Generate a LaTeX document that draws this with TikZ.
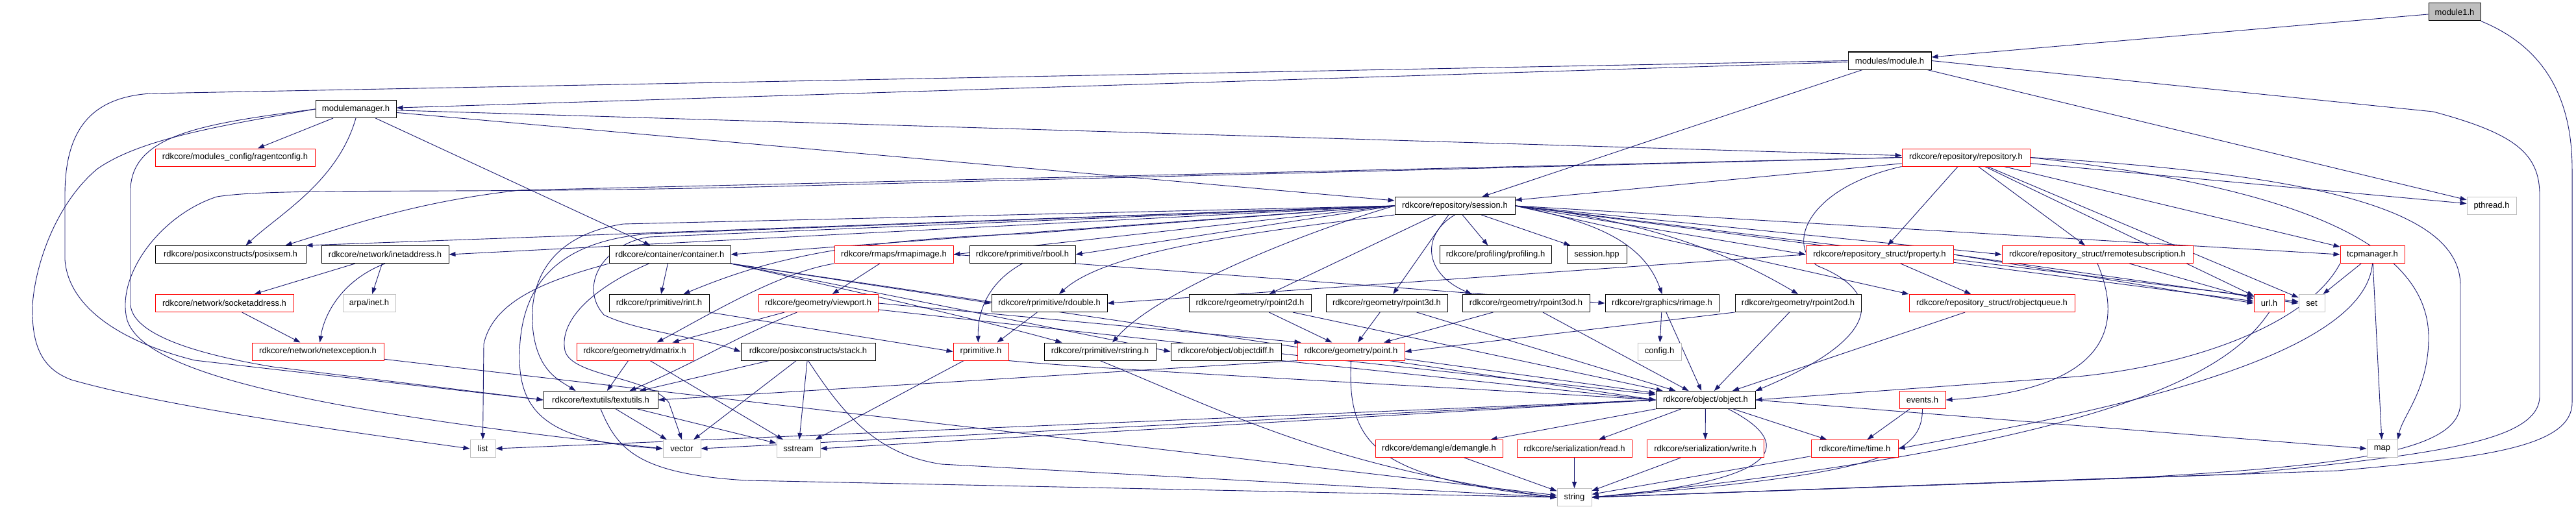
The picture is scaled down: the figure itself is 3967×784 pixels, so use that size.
\documentclass[tikz,border=0pt]{standalone}
\usepackage{fontspec}
\setmainfont{Liberation Sans}
\usetikzlibrary{arrows.meta}
\definecolor{dxblue}{RGB}{25,25,112}
\definecolor{sysgray}{RGB}{191,191,191}
\pgfdeclarelayer{bg}
\pgfsetlayers{bg,main}

\begin{document}
\begin{tikzpicture}[x=1pt,y=-1pt,
  file/.style={draw=#1,line width=1pt,fill=white,minimum height=27pt,inner sep=0pt,
     font=\fontsize{13}{15}\selectfont},
  file/.default=black,
  arr/.style={-{Triangle[length=10pt,width=7pt]},draw=dxblue,line width=0.9pt}]
\useasboundingbox (0,0) rectangle (3967,784);
% top rows
\node[file,fill=sysgray,minimum width=80pt] (m1) at (3780,18.5) {module1.h};
\node[file,minimum width=128pt] (mod) at (2910,93.5) {modules/module.h};
\node[file,minimum width=124pt] (mgr) at (548,168) {modulemanager.h};
\node[file=red,minimum width=246pt] (ragent) at (362,242.5) {rdkcore/modules\_config/ragentconfig.h};
\node[file=red,minimum width=197pt] (repo) at (3027.5,242.5) {rdkcore/repository/repository.h};
\node[file,minimum width=185pt] (sess) at (2240.5,317) {rdkcore/repository/session.h};
\node[file=sysgray,minimum width=76pt] (pthr) at (3837,317) {pthread.h};
% row 5
\node[file,minimum width=232pt] (psem) at (355,392) {rdkcore/posixconstructs/posixsem.h};
\node[file,minimum width=196pt] (inet) at (593,392) {rdkcore/network/inetaddress.h};
\node[file,minimum width=187pt] (cont) at (1031.5,392) {rdkcore/container/container.h};
\node[file=red,minimum width=183pt] (rmap) at (1376.5,392) {rdkcore/rmaps/rmapimage.h};
\node[file,minimum width=163pt] (rbool) at (1574.5,392) {rdkcore/rprimitive/rbool.h};
\node[file,minimum width=172pt] (prof) at (2303,392) {rdkcore/profiling/profiling.h};
\node[file,minimum width=92pt] (shpp) at (2459,392) {session.hpp};
\node[file=red,minimum width=227pt] (prop) at (2894.5,392) {rdkcore/repository\_struct/property.h};
\node[file=red,minimum width=294pt] (rrem) at (3230,392) {rdkcore/repository\_struct/rremotesubscription.h};
\node[file=red,minimum width=99pt] (tcp) at (3653.5,392) {tcpmanager.h};
% row 6
\node[file=red,minimum width=213pt] (sock) at (345.5,467) {rdkcore/network/socketaddress.h};
\node[file=sysgray,minimum width=81pt] (arpa) at (568.5,467) {arpa/inet.h};
\node[file,minimum width=154pt] (rint) at (1015,467) {rdkcore/rprimitive/rint.h};
\node[file=red,minimum width=184pt] (view) at (1260,467) {rdkcore/geometry/viewport.h};
\node[file,minimum width=178pt] (rdbl) at (1616,467) {rdkcore/rprimitive/rdouble.h};
\node[file,minimum width=188pt] (rp2d) at (1925,467) {rdkcore/rgeometry/rpoint2d.h};
\node[file,minimum width=187pt] (rp3d) at (2135.5,467) {rdkcore/rgeometry/rpoint3d.h};
\node[file,minimum width=196pt] (rp3od) at (2350,467) {rdkcore/rgeometry/rpoint3od.h};
\node[file,minimum width=175pt] (rimg) at (2559.5,467) {rdkcore/rgraphics/rimage.h};
\node[file,minimum width=194pt] (rp2od) at (2769,467) {rdkcore/rgeometry/rpoint2od.h};
\node[file=red,minimum width=255pt] (oqueue) at (3067.5,467) {rdkcore/repository\_struct/robjectqueue.h};
\node[file=red,minimum width=47pt] (url) at (3494.5,467) {url.h};
\node[file=sysgray,minimum width=40pt] (set) at (3560,467) {set};
% row 7
\node[file=red,minimum width=203pt] (netx) at (489.5,541.5) {rdkcore/network/netexception.h};
\node[file=red,minimum width=179pt] (dmat) at (977.5,541.5) {rdkcore/geometry/dmatrix.h};
\node[file,minimum width=207pt] (stack) at (1244.5,541.5) {rdkcore/posixconstructs/stack.h};
\node[file=red,minimum width=85pt] (rprim) at (1510.5,541.5) {rprimitive.h};
\node[file,minimum width=172pt] (rstr) at (1694,541.5) {rdkcore/rprimitive/rstring.h};
\node[file,minimum width=170pt] (odiff) at (1888,541.5) {rdkcore/object/objectdiff.h};
\node[file=red,minimum width=165pt] (point) at (2080.5,541.5) {rdkcore/geometry/point.h};
\node[file=sysgray,minimum width=67pt] (config) at (2555.5,541.5) {config.h};
% row 8
\node[file,minimum width=176pt] (text) at (925,616) {rdkcore/textutils/textutils.h};
\node[file,minimum width=153pt] (obj) at (2626.5,616) {rdkcore/object/object.h};
\node[file=red,minimum width=71pt] (events) at (2960.5,616) {events.h};
% row 9
\node[file=sysgray,minimum width=39pt] (list) at (743.5,691) {list};
\node[file=sysgray,minimum width=58pt] (vector) at (1050,691) {vector};
\node[file=sysgray,minimum width=67pt] (sstream) at (1229.5,691) {sstream};
\node[file=red,minimum width=196pt] (dem) at (2216,691) {rdkcore/demangle/demangle.h};
\node[file=red,minimum width=177pt] (read) at (2424.5,691) {rdkcore/serialization/read.h};
\node[file=red,minimum width=180pt] (write) at (2626,691) {rdkcore/serialization/write.h};
\node[file=red,minimum width=134pt] (time) at (2856,691) {rdkcore/time/time.h};
\node[file=sysgray,minimum width=47pt] (map) at (3668.5,691) {map};
% row 10
\node[file=sysgray,minimum width=53pt] (str) at (2424.5,766) {string};

\begin{pgfonlayer}{bg}
\fill[white] (0,0) rectangle (3967,784);
% module1.h
\draw[arr] (m1) -- (mod);
\draw[arr] (m1.south east) .. controls (3925,75) and (3961,160) .. (3961,260) -- (3961,620) .. controls (3961,690) and (3820,705) .. (3600,725) -- (str.east);
% modules/module.h
\draw[arr] (mod) -- (mgr);
\draw[arr] (mod) -- (sess);
\draw[arr] (mod) -- (pthr);
\draw[arr] (mod.east) -- (3747,172) .. controls (3870,205) and (3911,235) .. (3911,300) -- (3911,610) .. controls (3911,680) and (3750,700) .. (3450,730) -- (str.east);
\draw[arr] (mod.west) -- (232,144) .. controls (140,150) and (100,200) .. (100,300) -- (100,400) .. controls (105,470) and (180,525) .. (300,555) -- (text.west);
% modulemanager.h
\draw[arr] (mgr) -- (ragent);
\draw[arr] (mgr) -- (repo);
\draw[arr] (mgr) -- (sess);
\draw[arr] (mgr) -- (cont);
\draw[arr] (mgr.south) .. controls (520,280) and (430,330) .. ([xshift=-93pt]psem.north east);
\draw[arr] (mgr.west) .. controls (320,190) and (205,205) .. (201,290) -- (201,470) .. controls (205,515) and (300,545) .. (420,565) -- (text.west);
\draw[arr] (mgr.west) .. controls (330,195) and (215,215) .. (150,260) .. controls (90,310) and (55,400) .. (50,470) .. controls (48,540) and (70,570) .. (110,585) .. controls (250,625) and (500,660) .. (list.west);
% repository.h
\draw[arr] (repo) -- (sess);
\draw[arr] (repo.west) -- (800,293) .. controls (650,310) and (560,340) .. ([xshift=-32pt]psem.north east);
\draw[arr] (repo.west) -- (1200,287) .. controls (700,300) and (430,288) .. (334,303) .. controls (250,330) and (180,420) .. (195,490) .. controls (215,570) and (450,630) .. (vector.west);
\draw[arr] (repo) -- (prop);
\draw[arr] (repo) -- (rrem);
\draw[arr] (repo) -- (tcp);
\draw[arr] (repo) -- (pthr);
\draw[arr] (repo) -- (url);
\draw[arr] (repo) -- (set);
\draw[arr] (repo.east) .. controls (3550,290) and (3740,380) .. (3740,520) .. controls (3740,600) and (3700,640) .. (map.north east);
\draw[arr] (repo.east) .. controls (3600,270) and (3789,330) .. (3789,440) -- (3789,620) .. controls (3789,690) and (3650,715) .. (3300,735) -- (str.east);
\draw[arr] (repo.south west) .. controls (2780,290) and (2750,380) .. (2800,410) .. controls (2900,450) and (2900,520) .. (obj.north east);
% session.h
\draw[arr] (sess.west) -- (psem.north east);
\draw[arr] (sess.west) -- (inet.east);
\draw[arr] (sess.west) -- (cont.east);
\draw[arr] (sess.west) -- (rmap.east);
\draw[arr] (sess.west) -- (rbool.east);
\draw[arr] (sess) -- (prof);
\draw[arr] (sess) -- (shpp);
\draw[arr] (sess.east) -- (prop.west);
\draw[arr] (sess.east) -- (rrem.west);
\draw[arr] (sess.east) -- (tcp.west);
\draw[arr] (sess.west) -- (1580,360) .. controls (1300,370) and (1180,400) .. ([xshift=-40pt]rint.north east);
\draw[arr] (sess.south west) .. controls (1900,360) and (1700,390) .. ([xshift=15pt]rdbl.north);
\draw[arr] (sess) -- (rp2d);
\draw[arr] (sess) -- (rp3d);
\draw[arr] (sess.south) .. controls (2190,360) and (2190,420) .. ([xshift=15pt]rp3od.north west);
\draw[arr] (sess.east) .. controls (2450,340) and (2530,370) .. (rimg.north);
\draw[arr] (sess.east) .. controls (2550,340) and (2680,400) .. (rp2od.north);
\draw[arr] (sess.east) -- (oqueue.north west);
\draw[arr] (sess.east) -- (url);
\draw[arr] (sess.east) -- (set);
\draw[arr] (sess.west) .. controls (2000,360) and (1780,450) .. ([xshift=19pt]rstr.north);
\draw[arr] (sess.west) -- (960,345) .. controls (860,360) and (815,420) .. (820,500) .. controls (825,570) and (860,585) .. ([xshift=50pt]text.north west);
\draw[arr] (sess.west) -- (1000,360) .. controls (880,370) and (800,420) .. (800,550) .. controls (800,640) and (850,680) .. (vector.west);
\draw[arr] (sess.west) -- (1000,365) .. controls (930,375) and (890,440) .. (930,485) .. controls (980,510) and (1080,520) .. (stack.west);
% container.h
\draw[arr] (cont) -- (rint);
\draw[arr] (cont.south west) .. controls (850,430) and (760,460) .. (745,530) -- (list.north);
\draw[arr] ([xshift=-32pt]cont.south) .. controls (920,440) and (860,490) .. (870,540) .. controls (880,580) and (1000,580) .. (1030,620) -- (vector.north);
\draw[arr] (cont.south east) -- (rdbl.west);
\draw[arr] (cont.south east) .. controls (1300,445) and (1500,490) .. ([xshift=28pt]rstr.north west);
\draw[arr] (cont.south east) -- (odiff.west);
\draw[arr] (cont.south east) -- (obj.west);
% rmapimage.h, rbool.h
\draw[arr] (rmap) -- (view);
\draw[arr] (rmap.south west) .. controls (1200,420) and (1100,480) .. ([xshift=124pt]dmat.north west);
\draw[arr] (rmap.east) -- (rimg.west);
\draw[arr] (rbool.south) .. controls (1530,430) and (1505,470) .. ([xshift=-4pt]rprim.north);
% network
\draw[arr] (inet) -- (sock);
\draw[arr] (inet) -- (arpa);
\draw[arr] (inet.south) .. controls (530,430) and (500,480) .. ([xshift=3pt]netx.north);
\draw[arr] (sock) -- (netx);
\draw[arr] (netx) -- (str);
% row 6 headers
\draw[arr] (rint.south east) -- (rprim.west);
\draw[arr] (view) -- ([xshift=58pt]dmat.north);
\draw[arr] ([xshift=60pt]view.south west) .. controls (1130,520) and (1080,555) .. ([xshift=-44pt]text.north east);
\draw[arr] (view) -- (obj);
\draw[arr] (view.east) -- ([xshift=6pt]point.north west);
\draw[arr] (rdbl) -- ([xshift=25pt]rprim.north);
\draw[arr] (rp2d) -- (point);
\draw[arr] (rp2d) -- (obj);
\draw[arr] (rp3d) -- (point);
\draw[arr] (rp3d) -- (obj);
\draw[arr] (rp3od) -- (point);
\draw[arr] (rp3od) -- (obj);
\draw[arr] (rimg) -- (config);
\draw[arr] (rimg) -- (obj);
\draw[arr] (rp2od.south west) -- (point.east);
\draw[arr] (rp2od) -- (obj);
\draw[arr] (oqueue) -- (obj);
% repository_struct, tcpmanager
\draw[arr] (prop) -- (oqueue);
\draw[arr] (prop.west) -- (rdbl.east);
\draw[arr] (prop.east) -- (set.west);
\draw[arr] (prop.east) -- (url.west);
\draw[arr] (rrem) -- (url);
\draw[arr] (rrem.south) .. controls (3270,500) and (3250,600) .. (events.east);
\draw[arr] (tcp) -- (set);
\draw[arr] (tcp) -- (map);
\draw[arr] (tcp.south west) .. controls (3560,490) and (3400,560) .. (3200,580) -- (obj.east);
\draw[arr] (tcp.south) .. controls (3640,560) and (3200,640) .. (time.east);
\draw[arr] (url.south) .. controls (3440,560) and (3300,680) .. (str.east);
\draw[arr] (events) -- (time);
\draw[arr] (events.south) .. controls (2960,700) and (2900,730) .. (str.east);
% row 7 headers
\draw[arr] (dmat) -- (text);
\draw[arr] (dmat) -- (sstream);
\draw[arr] (stack) -- (text);
\draw[arr] (stack) -- (vector);
\draw[arr] (stack) -- (sstream);
\draw[arr] (stack.south) .. controls (1300,640) and (1350,700) .. (1450,715) -- (str.west);
\draw[arr] (rprim) -- (sstream);
\draw[arr] (rprim.south east) .. controls (1700,570) and (2300,600) .. (obj.west);
\draw[arr] (rstr.south) .. controls (1900,640) and (2050,720) .. (str.west);
\draw[arr] (odiff.south east) -- (obj.west);
\draw[arr] (point) -- (obj);
\draw[arr] (point.south west) -- (text.east);
\draw[arr] (point.south) .. controls (2075,680) and (2110,735) .. (str.west);
% textutils.h, object.h
\draw[arr] (text) -- (vector);
\draw[arr] (text) -- (sstream);
\draw[arr] (text.south) .. controls (950,690) and (980,730) .. (1150,740) -- (str.west);
\draw[arr] (obj) -- (read);
\draw[arr] (obj) -- (write);
\draw[arr] (obj) -- (time);
\draw[arr] (obj.south west) -- ([xshift=-19pt]dem.north east);
\draw[arr] ([xshift=-42pt]obj.south east) .. controls (2760,680) and (2760,740) .. (str.east);
\draw[arr] (obj.east) -- (map.west);
\draw[arr] (obj.west) -- (list.east);
\draw[arr] (obj.west) -- (vector.east);
\draw[arr] (obj.west) -- (sstream.east);
\draw[arr] (read) -- (str);
\draw[arr] (write) -- (str);
\draw[arr] (time) -- (str);
\draw[arr] (dem) -- (str);
\end{pgfonlayer}
\end{tikzpicture}
\end{document}
